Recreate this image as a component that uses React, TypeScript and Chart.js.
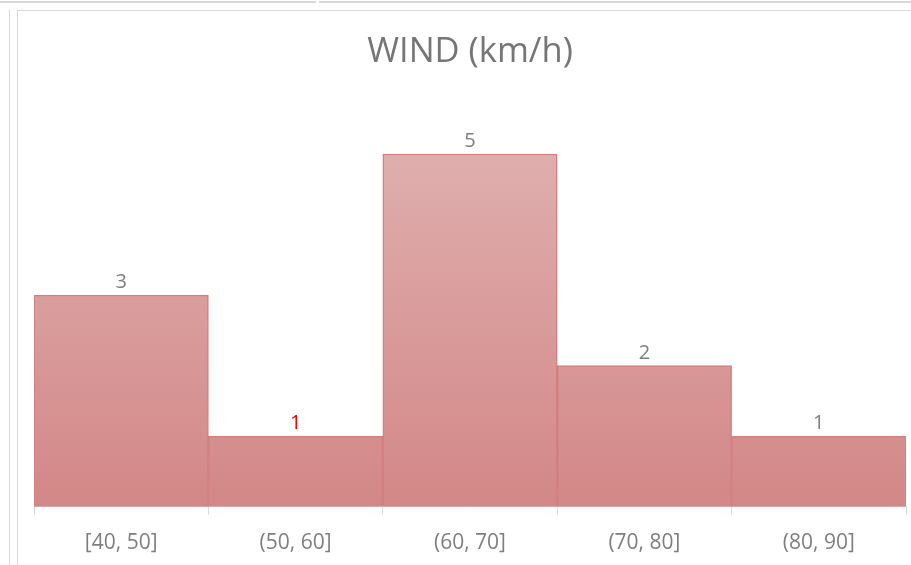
import React, { useEffect, useRef } from "react";
import { Chart, registerables } from "chart.js";

Chart.register(...registerables);

const categories = ["[40, 50]", "(50, 60]", "(60, 70]", "(70, 80]", "(80, 90]"];
const counts = [3, 1, 5, 2, 1];
const labelColors = ["#7f7f7f", "#ff0000", "#7f7f7f", "#7f7f7f", "#7f7f7f"];
const titleText = "WIND (km/h)";

const valueLabels = {
  id: "valueLabels",
  afterDatasetsDraw(chart: any) {
    const { ctx } = chart;
    const meta = chart.getDatasetMeta(0);
    ctx.save();
    ctx.font = "20px 'Open Sans'";
    ctx.textAlign = "center";
    ctx.textBaseline = "alphabetic";
    meta.data.forEach((bar: any, i: number) => {
      ctx.fillStyle = labelColors[i];
      ctx.fillText(String(counts[i]), bar.x, bar.y - 7);
    });
    ctx.restore();
  },
};

export default function App() {
  const ref = useRef<HTMLCanvasElement>(null);
  useEffect(() => {
    document.body.style.margin = "0";
    const canvas = ref.current!;
    const chart = new Chart(canvas, {
      type: "bar",
      data: {
        labels: categories,
        datasets: [
          {
            data: counts,
            barPercentage: 1,
            categoryPercentage: 1,
            borderWidth: 1.5,
            borderColor: "rgba(205,115,115,0.9)",
            backgroundColor: (c: any) => {
              const area = c.chart.chartArea;
              if (!area) return "#d89a9a";
              const g = c.chart.ctx.createLinearGradient(0, area.top, 0, area.bottom);
              g.addColorStop(0, "#e2b5b5");
              g.addColorStop(1, "#d38787");
              return g;
            },
          },
        ],
      },
      options: {
        responsive: false,
        animation: false,
        maintainAspectRatio: false,
        layout: { padding: { left: 16, right: 5, top: 15, bottom: 3 } },
        plugins: {
          legend: { display: false },
          tooltip: { enabled: false },
          title: {
            display: true,
            text: titleText,
            color: "#767676",
            font: { family: "'Open Sans'", size: 34.5, weight: "normal" },
            padding: { top: 5, bottom: 11 },
          },
        },
        scales: {
          x: {
            grid: {
              display: true,
              drawOnChartArea: false,
              drawTicks: true,
              tickLength: 8,
              color: "#d9d9d9",
              offset: true,
            },
            border: { display: true, color: "#d9d9d9" },
            ticks: {
              color: "#7f7f7f",
              font: { family: "'Open Sans'", size: 21 },
              padding: 16,
            },
          },
          y: {
            display: false,
            min: 0,
            max: 6,
          },
        },
      },
      plugins: [valueLabels],
    });
    return () => chart.destroy();
  }, []);

  const line = "#d9d9d9";
  return (
    <div style={{ position: "relative", width: 911, height: 565, overflow: "hidden", background: "#fff" }}>
      <div style={{ position: "absolute", left: 0, top: 1, width: 316, height: 2, background: line }} />
      <div style={{ position: "absolute", left: 319, top: 1, width: 592, height: 2, background: line }} />
      <div style={{ position: "absolute", left: 9, top: 10, width: 1, height: 555, background: line }} />
      <div style={{ position: "absolute", left: 17, top: 10, width: 1, height: 555, background: line }} />
      <div style={{ position: "absolute", left: 17, top: 10, width: 894, height: 1, background: line }} />
      <canvas ref={ref} width={893} height={564} style={{ position: "absolute", left: 18, top: 11 }} />
    </div>
  );
}
